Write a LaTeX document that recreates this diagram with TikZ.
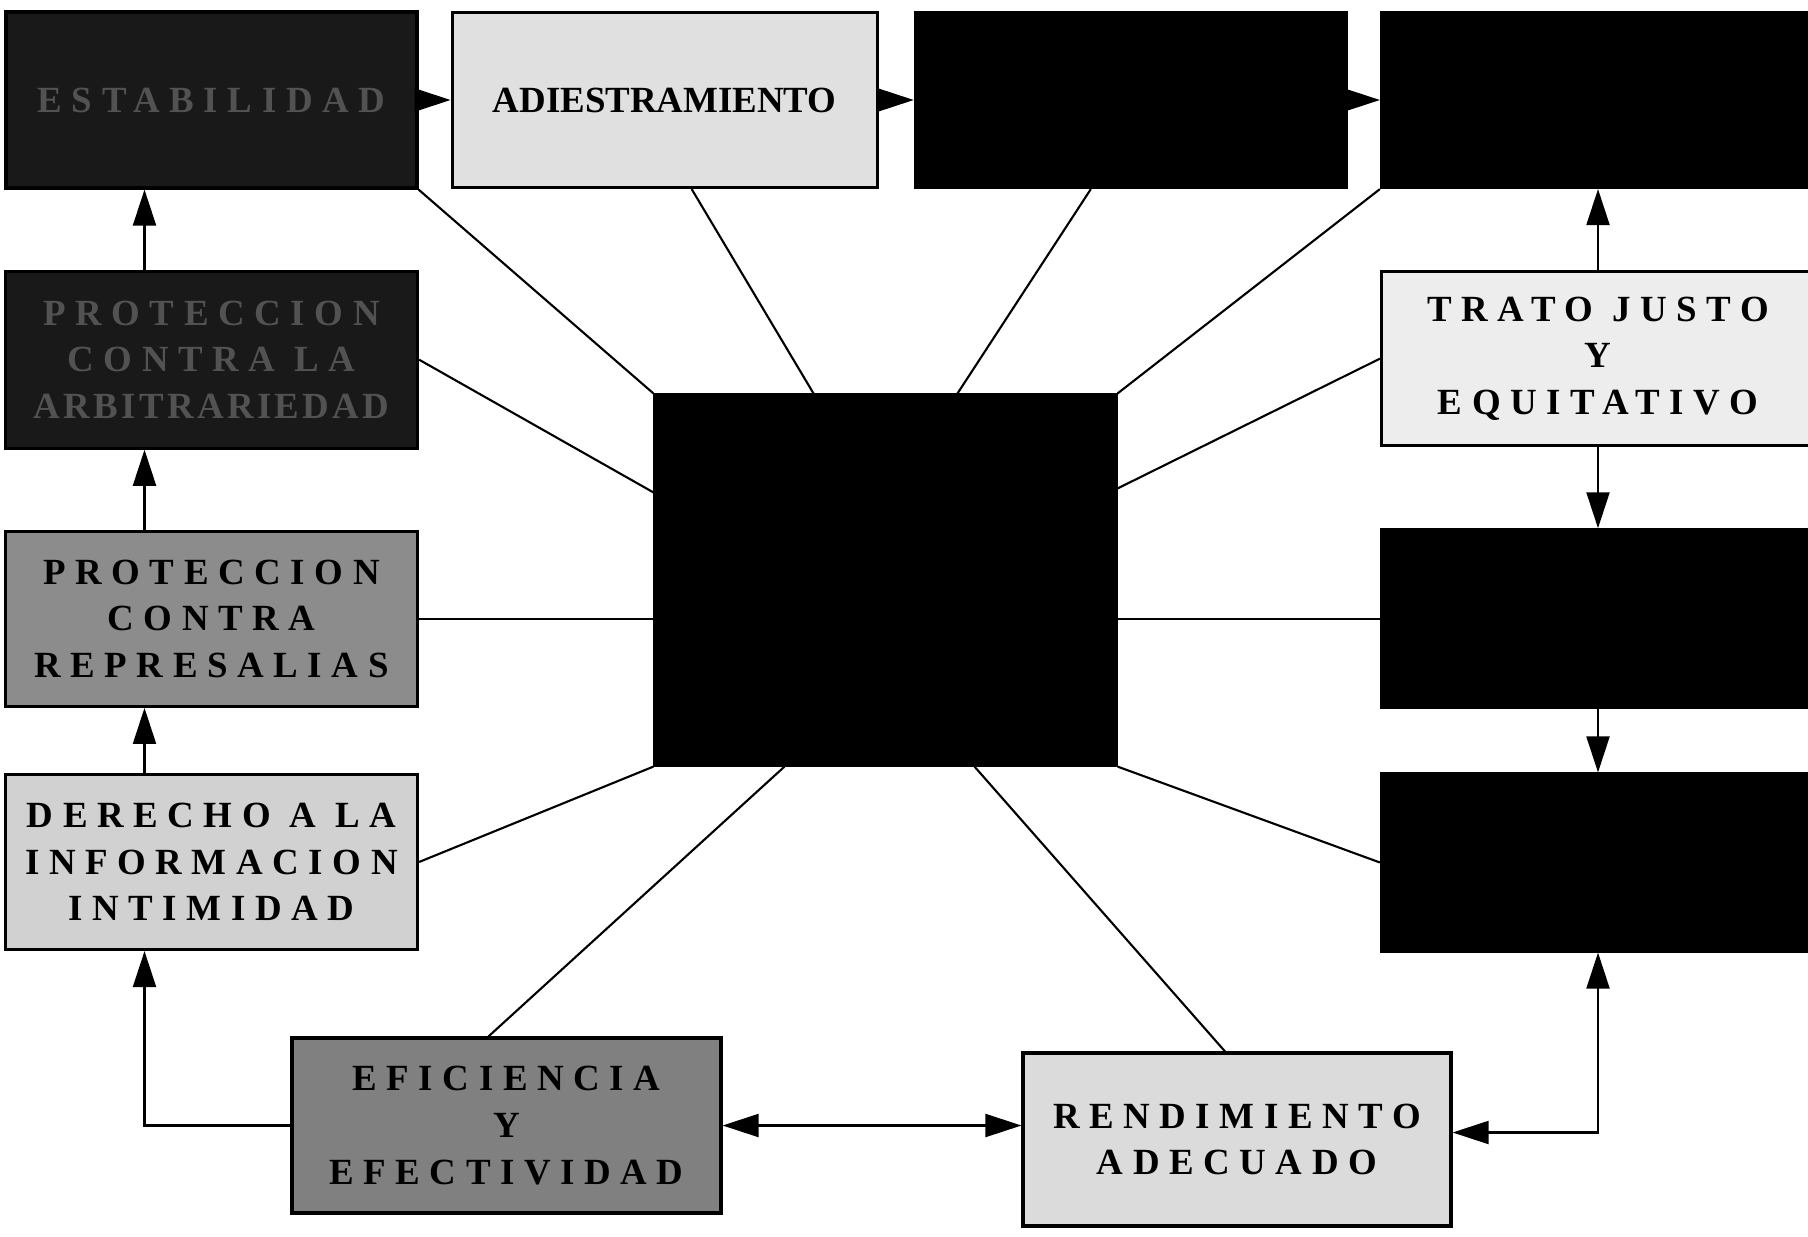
\documentclass[tikz,border=0pt]{standalone}
\usepackage{fontspec}
\setmainfont{Liberation Serif}
\newfontfamily\widefont[LetterSpace=26]{Liberation Serif}
\newfontfamily\midfont[LetterSpace=9]{Liberation Serif}
\usetikzlibrary{arrows.meta,positioning}
\tikzset{
  box/.style={draw=black,line width=0.9pt,align=center,minimum width=43.3mm,minimum height=17.5mm,inner sep=0.5mm,font=\widefont\bfseries\fontsize{10.5}{13.3}\selectfont},
  darkbox/.style={box,fill=black!90,text=black!68},
  blackbox/.style={box,fill=black},
  greybox/.style={box,fill=black!45},
  palebox/.style={box,fill=black!18},
  lightbox/.style={box,fill=black!7},
  link/.style={draw=black,line width=0.6pt},
  arrow/.style={-{Triangle[length=3.6mm,width=2.3mm]},line width=0.6pt,draw=black},
  twoway/.style={{Triangle[length=3.6mm,width=2.3mm]}-{Triangle[length=3.6mm,width=2.3mm]},line width=0.6pt,draw=black}
}

\begin{document}
\begin{tikzpicture}[x=1mm,y=1mm,node distance=8mm]
  \useasboundingbox (0,0) rectangle (180.8,-123.6);

  % top row
  \node (estab) [darkbox,minimum width=41.1mm,minimum height=17.6mm] at (21.15,-10.0) {ESTABILIDAD};
  \node (adiest) [palebox,fill=black!12,right=3.2mm of estab,minimum width=42.5mm,font=\bfseries\fontsize{10.5}{13.3}\selectfont] {ADIESTRAMIENTO};
  \node (topc) [blackbox,right=3.5mm of adiest,minimum width=43.1mm] {};
  \node (topr) [blackbox,right=3.2mm of topc] {};

  % left column
  \node (arbit) [darkbox,below=8mm of estab,minimum width=41.2mm,minimum height=17.7mm] {PROTECCION\\CONTRA LA\\{\midfont ARBITRARIEDAD}};
  \node (repres) [greybox,below=8mm of arbit,minimum width=41.2mm] {PROTECCION\\CONTRA\\REPRESALIAS};
  \node (derecho) [palebox,below=6.5mm of repres,minimum width=41.2mm] {DERECHO A LA\\INFORMACION\\INTIMIDAD};

  % right column
  \node (trato) [lightbox,below=8.1mm of topr,minimum height=17.4mm] {TRATO JUSTO\\Y\\EQUITATIVO};
  \node (rmid) [blackbox,below=8.1mm of trato,minimum height=17.8mm] {};
  \node (rlow) [blackbox,below=6.3mm of rmid,minimum height=17.7mm] {};

  % centre and bottom row
  \node (centre) [blackbox,minimum width=46.1mm,minimum height=37mm] at (88.55,-58.0) {};
  \node (efic) [greybox,fill=black!50,minimum width=42.9mm] at (50.65,-112.55) {EFICIENCIA\\Y\\EFECTIVIDAD};
  \node (rend) [palebox,fill=black!14,minimum width=42.8mm,minimum height=17.3mm] at (123.7,-113.95) {RENDIMIENTO\\ADECUADO};

  \draw[link] (estab.south east) -- (centre.north west);
  \draw[link] (arbit.east) -- ([yshift=-9.9mm]centre.north west);
  \draw[link] ([xshift=2.7mm]adiest.south) -- ([xshift=-7.2mm]centre.north);
  \draw[link] ([xshift=-4mm]topc.south) -- ([xshift=7.2mm]centre.north);
  \draw[link] (topr.south west) -- (centre.north east);
  \draw[link] (trato.west) -- ([yshift=-9.5mm]centre.north east);
  \draw[link] (repres.east) -- (repres.east -| centre.west);
  \draw[link] (rmid.west) -- (rmid.west -| centre.east);
  \draw[link] (derecho.east) -- (centre.south west);
  \draw[link] (rlow.west) -- (centre.south east);
  \draw[link] ([xshift=-1.8mm]efic.north) -- ([xshift=-10.1mm]centre.south);
  \draw[link] ([xshift=-1.2mm]rend.north) -- ([xshift=8.9mm]centre.south);

  \draw[arrow] (estab) -- (adiest);
  \draw[arrow] (adiest) -- (topc);
  \draw[arrow] (topc) -- (topr);
  \draw[arrow] ([xshift=-6.7mm]arbit.north) -- ([xshift=-6.7mm]estab.south);
  \draw[arrow] ([xshift=-6.7mm]repres.north) -- ([xshift=-6.7mm]arbit.south);
  \draw[arrow] ([xshift=-6.7mm]derecho.north) -- ([xshift=-6.7mm]repres.south);
  \draw[arrow] (efic.west) -| ([xshift=-6.7mm]derecho.south);
  \draw[twoway] (efic.east) -- (efic.east -| rend.west);
  \draw[twoway] ([yshift=0.7mm]rend.east) -| (rlow.south);
  \draw[arrow] (trato) -- (topr);
  \draw[arrow] (trato) -- (rmid);
  \draw[arrow] (rmid) -- (rlow);
\end{tikzpicture}
\end{document}
